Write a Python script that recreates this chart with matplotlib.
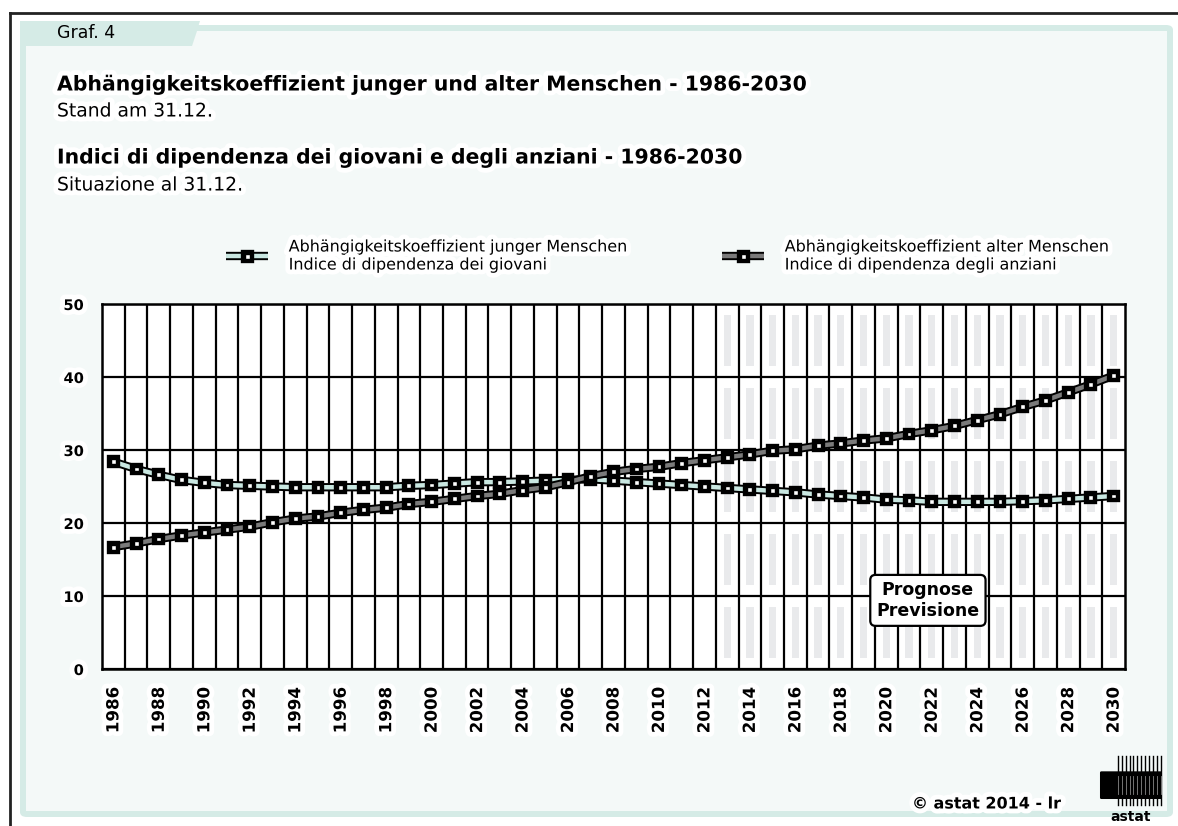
import numpy as np
import matplotlib
matplotlib.use("Agg")
import matplotlib.pyplot as plt
import matplotlib.patheffects as pe
from matplotlib.patches import Rectangle, FancyBboxPatch, Polygon
from matplotlib.lines import Line2D

plt.rcParams["font.family"] = ["DejaVu Sans"]

years = list(range(1986, 2031))
young = [28.4, 27.4, 26.6, 25.9, 25.5, 25.2, 25.1, 25.0, 24.9, 24.9,
         24.9, 24.9, 24.9, 25.1, 25.2, 25.4, 25.6, 25.6, 25.7, 25.8,
         25.9, 26.0, 25.8, 25.6, 25.4, 25.2, 25.0, 24.8, 24.6, 24.4,
         24.2, 23.9, 23.7, 23.5, 23.2, 23.1, 22.9, 22.9, 22.9, 22.9,
         23.0, 23.1, 23.3, 23.5, 23.7]
old = [16.7, 17.2, 17.8, 18.3, 18.7, 19.1, 19.5, 20.1, 20.6, 20.9,
       21.4, 21.8, 22.1, 22.6, 22.9, 23.3, 23.7, 24.0, 24.5, 24.9,
       25.6, 26.4, 27.0, 27.4, 27.7, 28.2, 28.6, 29.0, 29.4, 29.9,
       30.1, 30.6, 30.9, 31.3, 31.6, 32.2, 32.7, 33.3, 34.1, 34.9,
       35.9, 36.8, 37.9, 39.0, 40.2]
forecast_from = 2013
y_ticks = [0, 10, 20, 30, 40, 50]

label_young = "Abhängigkeitskoeffizient junger Menschen\nIndice di dipendenza dei giovani"
label_old = "Abhängigkeitskoeffizient alter Menschen\nIndice di dipendenza degli anziani"

W, H = 1178, 826
fig = plt.figure(figsize=(W / 100, H / 100), dpi=100)
fig.patch.set_facecolor("white")

glow = [pe.withStroke(linewidth=7, foreground="white")]


def fx(px):
    return px / W


def fy(py):
    return 1 - py / H


# panel background
fig.add_artist(Line2D([fx(9.5), fx(9.5)], [fy(13), 0], color="#222222", lw=2, zorder=-6))
fig.add_artist(Line2D([fx(9.5), 1], [fy(13), fy(13)], color="#222222", lw=2, zorder=-6))
fig.add_artist(FancyBboxPatch((fx(20), fy(817)), fx(1153), (817 - 25) / H,
                              boxstyle="round,pad=0,rounding_size=0.006",
                              fc="#d5ebe6", ec="none", zorder=-5))
fig.add_artist(Polygon([(fx(20), fy(21)), (fx(200), fy(21)), (fx(192), fy(46)),
                        (fx(20), fy(46))], closed=True, fc="#d5ebe6", ec="none",
                       zorder=-5))
fig.add_artist(Rectangle((fx(26), fy(811)), fx(1141), (811 - 31) / H,
                         fc="#f4f9f8", ec="none", zorder=-4))
fig.add_artist(Polygon([(fx(26), fy(31)), (fx(197), fy(31)), (fx(192), fy(46)),
                        (fx(26), fy(46))], closed=True, fc="#d5ebe6", ec="none",
                       zorder=-3))

fig.text(fx(57), fy(33), "Graf. 4", fontsize=12.5, va="center", ha="left")

fig.text(fx(57), fy(85), "Abhängigkeitskoeffizient junger und alter Menschen - 1986-2030",
         fontsize=14.7, fontweight="bold", va="center", path_effects=glow)
fig.text(fx(57), fy(111), "Stand am 31.12.", fontsize=13.5, va="center", path_effects=glow)
fig.text(fx(57), fy(158), "Indici di dipendenza dei giovani e degli anziani - 1986-2030",
         fontsize=14.7, fontweight="bold", va="center", path_effects=glow)
fig.text(fx(57), fy(185), "Situazione al 31.12.", fontsize=13.5, va="center", path_effects=glow)

ax = fig.add_axes([fx(102), fy(669), fx(1125 - 102), (669 - 304) / H])
ax.set_facecolor("white")
x = np.arange(len(years))

# shaded forecast columns
fc_idx = [i for i, yr in enumerate(years) if yr >= forecast_from]
for lo in y_ticks[:-1]:
    ax.bar(fc_idx, [7.0] * len(fc_idx), bottom=lo + 1.5, width=0.32,
           color="#e9eaec", zorder=0.5)

# grid
for k in range(len(years) - 1):
    ax.axvline(k + 0.5, color="black", lw=1.6, zorder=1)
for t in y_ticks:
    ax.axhline(t, color="black", lw=1.6, zorder=1)

line_fx = [pe.Stroke(linewidth=6, foreground="black"), pe.Normal()]
ax.plot(x, young, color="#c9e7e1", lw=3.2, marker="s", ms=3.5, mfc="white",
        mec="black", mew=1.0, path_effects=line_fx, zorder=3, label=label_young,
        solid_capstyle="butt")
ax.plot(x, old, color="#7a7a7a", lw=3.2, marker="s", ms=3.5, mfc="white",
        mec="black", mew=1.0, path_effects=line_fx, zorder=3, label=label_old,
        solid_capstyle="butt")

ax.set_xlim(-0.5, len(years) - 0.5)
ax.set_ylim(0, 50)
ax.set_yticks(y_ticks)
ax.set_yticklabels([str(t) for t in y_ticks], fontsize=10.5, fontweight="bold")
ax.set_xticks(x[::2])
ax.set_xticklabels([str(yr) for yr in years[::2]], rotation=90, fontsize=12,
                   fontweight="bold")
ax.tick_params(length=0)
ax.tick_params(axis="y", pad=13)
ax.tick_params(axis="x", pad=13)
for lab in ax.get_xticklabels() + ax.get_yticklabels():
    lab.set_path_effects(glow)
for s in ax.spines.values():
    s.set_linewidth(1.8)
    s.set_zorder(2)

ax.text(35.83, 9.4, "Prognose\nPrevisione", fontsize=12.5, fontweight="bold",
        ha="center", va="center", linespacing=1.2, zorder=5,
        bbox=dict(boxstyle="round,pad=0.35,rounding_size=0.3", fc="white",
                  ec="black", lw=1.6))

leg = fig.legend(loc="center left", bbox_to_anchor=(fx(212), fy(256)), ncol=2,
                 frameon=False, fontsize=11.5, handlelength=2.6,
                 columnspacing=5.8, handletextpad=1.3, labelspacing=0.2)
for t in leg.get_texts():
    t.set_path_effects(glow)
    t.set_linespacing(1.25)

fig.text(fx(912), fy(804), "© astat 2014 - lr", fontsize=11.5, fontweight="bold",
         va="center", ha="left", path_effects=glow)

# logo
logo = fig.add_axes([fx(1098), 0, fx(66), (826 - 755) / H])
logo.set_xlim(0, 1)
logo.set_ylim(0, 1)
logo.axis("off")
logo.add_patch(FancyBboxPatch((0.05, 0.4), 0.9, 0.35,
                              boxstyle="round,pad=0.02", fc="black", ec="none"))
for xv in np.linspace(0.3, 0.95, 12):
    logo.plot([xv, xv], [0.3, 0.98], color="black", lw=1)
    logo.plot([xv, xv], [0.45, 0.7], color="#888888", lw=0.6)
logo.text(0.5, 0.03, "astat", fontsize=10, fontweight="bold", ha="center",
          va="bottom")

fig.savefig("out.png", dpi=100)
